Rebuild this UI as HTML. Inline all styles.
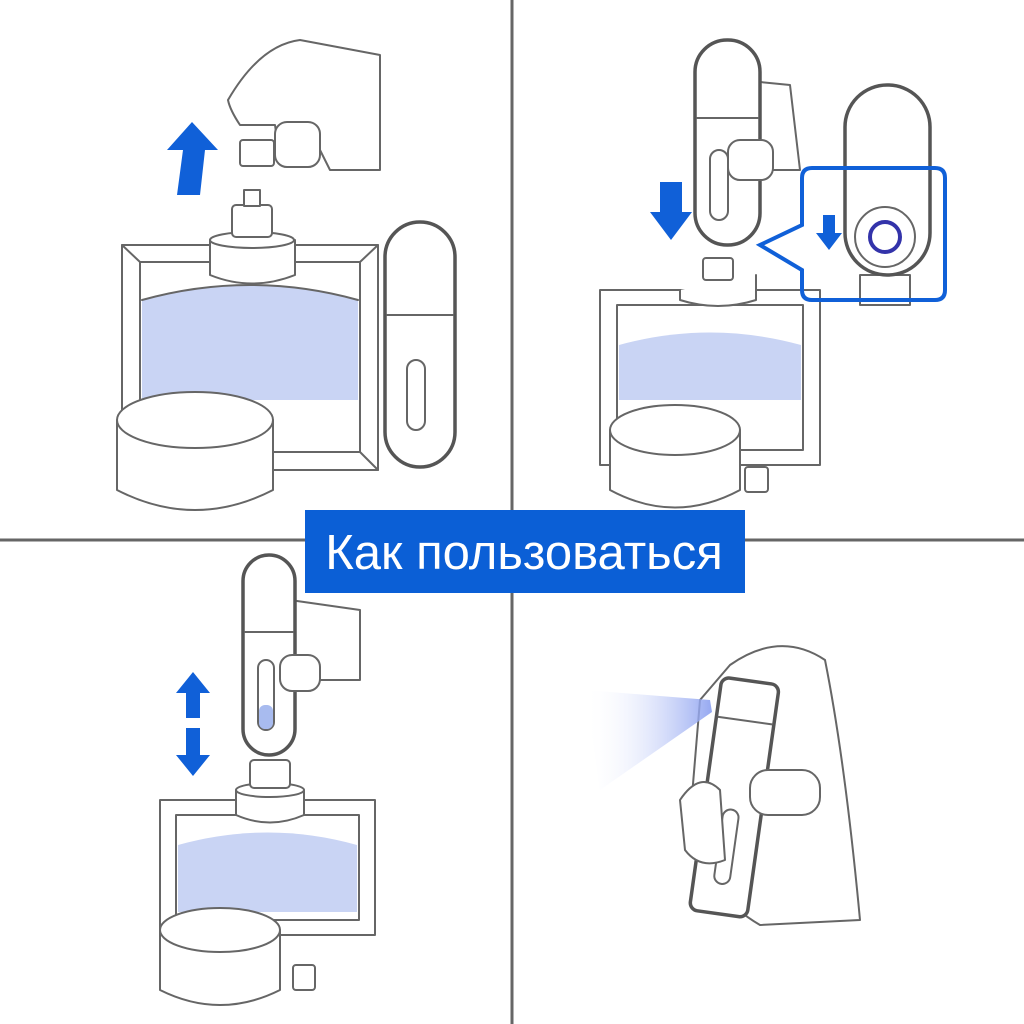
<!DOCTYPE html>
<html><head><meta charset="utf-8"><style>
html,body{margin:0;padding:0;background:#fff;width:1024px;height:1024px;overflow:hidden}
svg{display:block}
</style></head><body>
<svg width="1024" height="1024" viewBox="0 0 1024 1024" xmlns="http://www.w3.org/2000/svg">
<defs>
<linearGradient id="sp" x1="0" x2="1"><stop offset="0" stop-color="#fff" stop-opacity="0"/><stop offset="1" stop-color="#8a9ff0"/></linearGradient>
</defs>
<rect width="1024" height="1024" fill="#fff"/>
<g fill="none" stroke="#666" stroke-width="2" stroke-linejoin="round" stroke-linecap="round">
<!-- Panel 1 -->
<path d="M122 245 L378 245 L378 470 L122 470 Z" fill="#fff"/>
<path d="M140 262 L360 262 L360 452 L140 452 Z"/>
<path d="M142 300 Q250 270 358 300 L358 400 L142 400 Z" fill="#c9d4f4" stroke="none"/>
<path d="M142 300 Q250 270 358 300"/>
<path d="M122 245 L140 262 M378 245 L360 262 M122 470 L140 452 M378 470 L360 452"/>
<path d="M210 240 L295 240 L295 275 Q252 292 210 275 Z" fill="#fff"/>
<ellipse cx="252" cy="240" rx="42" ry="8" fill="#fff"/>
<rect x="232" y="205" width="40" height="32" rx="4" fill="#fff"/>
<rect x="244" y="190" width="16" height="16" fill="#fff"/>
<path d="M117 420 L117 490 Q195 530 273 490 L273 420" fill="#fff"/>
<ellipse cx="195" cy="420" rx="78" ry="28" fill="#fff"/>
<rect x="385" y="222" width="70" height="245" rx="35" fill="#fff" stroke-width="3.5" stroke="#555"/>
<path d="M387 315 L453 315"/>
<rect x="407" y="360" width="18" height="70" rx="9"/>
<path d="M228 100 Q260 45 300 40 L380 55 L380 170 L330 170 L320 150 L280 160 L275 125 L240 125 Q230 110 228 100" fill="#fff"/>
<rect x="275" y="122" width="45" height="45" rx="12" fill="#fff"/>
<rect x="240" y="140" width="34" height="26" rx="3" fill="#fff"/>
<!-- Panel 2 -->
<path d="M600 290 L820 290 L820 465 L600 465 Z" fill="#fff"/>
<path d="M617 305 L803 305 L803 450 L617 450 Z"/>
<path d="M619 345 Q710 320 801 345 L801 400 L619 400 Z" fill="#c9d4f4" stroke="none"/>
<path d="M680 290 L680 300 Q718 312 756 300 L756 275" fill="#fff"/>
<rect x="703" y="258" width="30" height="22" rx="3" fill="#fff"/>
<path d="M610 430 L610 490 Q675 525 740 490 L740 430" fill="#fff"/>
<ellipse cx="675" cy="430" rx="65" ry="25" fill="#fff"/>
<rect x="745" y="467" width="23" height="25" rx="3" fill="#fff"/>
<path d="M740 80 L790 85 L800 170 L760 170" fill="#fff"/>
<rect x="695" y="40" width="65" height="205" rx="32" fill="#fff" stroke-width="3.5" stroke="#555"/>
<path d="M697 118 L758 118"/>
<rect x="710" y="150" width="18" height="70" rx="9"/>
<rect x="728" y="140" width="45" height="40" rx="12" fill="#fff"/>
<rect x="860" y="275" width="50" height="30" fill="#fff"/>
<rect x="845" y="85" width="85" height="190" rx="42" fill="#fff" stroke-width="3.5" stroke="#555"/>
<circle cx="885" cy="237" r="30" fill="#fff"/>
<circle cx="885" cy="237" r="15" stroke="#3333aa" stroke-width="4"/>
<!-- Panel 3 -->
<path d="M160 800 L375 800 L375 935 L160 935 Z" fill="#fff"/>
<path d="M176 815 L359 815 L359 920 L176 920 Z"/>
<path d="M178 845 Q268 820 357 845 L357 912 L178 912 Z" fill="#c9d4f4" stroke="none"/>
<path d="M236 790 L236 815 Q270 830 304 815 L304 790" fill="#fff"/>
<ellipse cx="270" cy="790" rx="34" ry="7" fill="#fff"/>
<rect x="250" y="760" width="40" height="28" rx="4" fill="#fff"/>
<path d="M160 930 L160 990 Q220 1020 280 990 L280 930" fill="#fff"/>
<ellipse cx="220" cy="930" rx="60" ry="22" fill="#fff"/>
<rect x="293" y="965" width="22" height="25" rx="3" fill="#fff"/>
<path d="M290 600 L360 610 L360 680 L295 680" fill="#fff"/>
<rect x="243" y="555" width="52" height="200" rx="26" fill="#fff" stroke-width="3.5" stroke="#555"/>
<path d="M245 632 L293 632"/>
<rect x="258" y="660" width="16" height="70" rx="8"/>
<rect x="259" y="705" width="14" height="24" rx="6" fill="#a8bbef" stroke="none"/>
<rect x="280" y="655" width="40" height="36" rx="12" fill="#fff"/>
<!-- Panel 4 -->
<path d="M730 665 Q780 630 825 660 Q845 760 860 920 L760 925 Q700 890 690 820 L700 700 Z" fill="#fff"/>
<g transform="rotate(8 735 800)">
<rect x="705" y="680" width="58" height="235" rx="8" fill="#fff" stroke-width="3.5" stroke="#555"/>
<path d="M707 720 L761 720"/>
<rect x="725" y="810" width="16" height="75" rx="8"/>
</g>
<path d="M680 800 Q700 770 720 790 L725 860 Q700 870 685 850 Z" fill="#fff"/>
<rect x="750" y="770" width="70" height="45" rx="18" fill="#fff"/>
</g>
<polygon points="585,690 710,700 712,712 600,790" fill="url(#sp)" opacity="0.9"/>
<g fill="#1060d8">
<polygon points="192,122 218,150 205,150 200,195 177,195 183,150 167,150"/>
<polygon points="660,182 682,182 682,212 692,212 671,240 650,212 660,212"/>
<polygon points="823,215 835,215 835,233 842,233 829,250 816,233 823,233"/>
<polygon points="193,672 210,693 200,693 200,718 186,718 186,693 176,693"/>
<polygon points="186,728 200,728 200,755 210,755 193,776 176,755 186,755"/>
</g>
<path d="M812 168 L935 168 Q945 168 945 178 L945 290 Q945 300 935 300 L812 300 Q802 300 802 290 L802 270 L760 245 L802 225 L802 178 Q802 168 812 168 Z" fill="none" stroke="#1060d8" stroke-width="4"/>
<line x1="512" y1="0" x2="512" y2="1024" stroke="#666" stroke-width="3"/>
<line x1="0" y1="540" x2="1024" y2="540" stroke="#666" stroke-width="3"/>
<rect x="305" y="510" width="440" height="83" fill="#0b5fd6"/>
<text x="524" y="569" text-anchor="middle" font-family="Liberation Sans, DejaVu Sans, sans-serif" font-size="49" fill="#fff">Как пользоваться</text>
</svg>
</body></html>
